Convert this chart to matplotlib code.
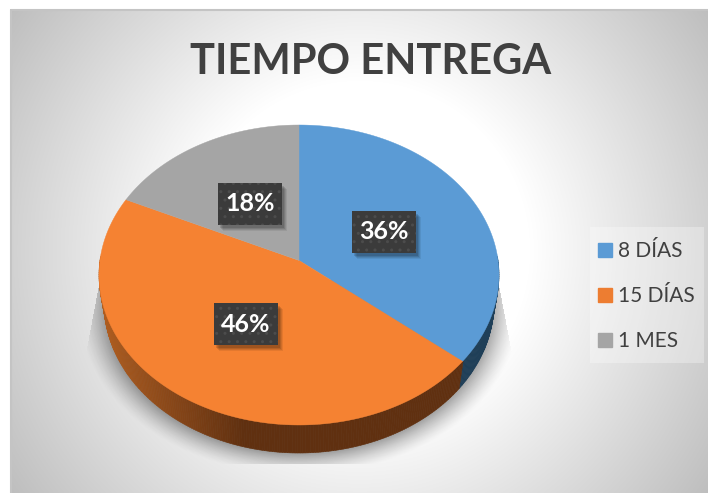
import numpy as np
import matplotlib
matplotlib.use('Agg')
import matplotlib.pyplot as plt
from matplotlib.patches import Patch, Rectangle

title = 'TIEMPO ENTREGA'
categories = ['8 DÍAS', '15 DÍAS', '1 MES']
values = [36, 46, 18]
colors = ['#5B9BD5', '#F58232', '#A5A5A5']
legend_colors = ['#5B9BD5', '#ED7D31', '#A5A5A5']

W, H = 708, 493
# pie ellipse in pixels
cx, cy, rx, ry = 299, 275, 200, 150
depth = 28
bottom_rx = 195
tilt = 0.097  # the centre of the pie sits higher than the centre of the ellipse


def project(x, y):
    # point on a round pie -> ellipse units with perspective
    den = 1 + tilt * y
    return x * np.sqrt(1 - tilt ** 2) / den, (y + tilt) / den


fig = plt.figure(figsize=(W / 100, H / 100), dpi=100)

# background with the radial gradient, pixel coordinates
bg = fig.add_axes([0, 0, 1, 1])
bg.set_xlim(0, W)
bg.set_ylim(H, 0)
bg.axis('off')
xx, yy = np.meshgrid(np.arange(W) + 0.5, np.arange(H) + 0.5)
r = np.hypot(xx - 360, yy - 251)
grey = np.clip(1 - (r - 170) / 240 * 0.24, 0, 1)
bg.imshow(np.dstack([grey, grey, grey]), extent=(0, W, H, 0), aspect='auto', zorder=0)
bg.add_patch(Rectangle((0, 0), W, 9, fc='white', ec='none', zorder=1))
bg.add_patch(Rectangle((0, 0), 10, H, fc='white', ec='none', zorder=1))
bg.plot([10.5, 10.5, W], [H, 9.5, 9.5], color='#C4C4C4', lw=1.5, zorder=2)

# soft shadow under the pie, cut off like in the original
dist = np.hypot((xx - cx) / (bottom_rx + 10), (yy - (cy + depth + 6)) / (ry + 4))
alpha = np.clip(1 - (dist - 0.92) / 0.16, 0, 1) ** 1.4 * 0.42
edge_l = 100 - (yy - 280) * 0.19
edge_r = 498 + (yy - 280) * 0.19
alpha[(xx < edge_l) | (xx > edge_r) | (yy > 464) | (yy < 280)] = 0
shadow = np.zeros((H, W, 4))
shadow[..., 3] = alpha
bg.imshow(shadow, extent=(0, W, H, 0), aspect='auto', zorder=3)

# pie axes: data units are the ellipse radii
ax = fig.add_axes([0, 0, 1, 1], facecolor='none')
ax.set_xlim(-cx / rx, (W - cx) / rx)
ax.set_ylim((cy - H) / ry, cy / ry)
ax.axis('off')

edges = np.cumsum([0] + values) / sum(values) * 2 * np.pi
apex = project(0, 0)

# side wall
bx = bottom_rx / rx
bdy = depth / ry
ex, ey = project(np.sin(edges[1]), np.cos(edges[1]))
split = np.arctan2(ex, ey)  # wall boundary between blue and orange
steps = np.linspace(np.pi * 0.46, np.pi * 1.54, 260)
side_dark = np.array([0x60, 0x30, 0x10]) / 255
side_light = np.array([0xAD, 0x5C, 0x20]) / 255
for t0, t1 in zip(steps[:-1], steps[1:]):
    xs = [np.sin(t0), np.sin(t1), bx * np.sin(t1), bx * np.sin(t0)]
    ys = [np.cos(t0), np.cos(t1), np.cos(t1) - bdy, np.cos(t0) - bdy]
    if (t0 + t1) / 2 < split:
        c = '#1F3F58'
    else:
        k = np.clip((-np.sin(t0) * rx - 55) / 140, 0, 1)
        c = side_dark + (side_light - side_dark) * k
    ax.fill(xs, ys, color=c, lw=0.4, zorder=2)

# top of the pie
for i in range(len(values)):
    t = np.linspace(edges[i], edges[i + 1], 200)
    px, py = project(np.sin(t), np.cos(t))
    ax.fill(np.r_[apex[0], px], np.r_[apex[1], py], color=colors[i], lw=0.3, zorder=3)

# overlay for texts, in pixels
top = fig.add_axes([0, 0, 1, 1], facecolor='none')
top.set_xlim(0, W)
top.set_ylim(H, 0)
top.axis('off')

top.text(371, 62, title, ha='center', va='center', fontsize=30, fontweight='bold',
         family='Lato', color='#404040')

# data labels, half way along each slice
for i in range(len(values)):
    mid = (edges[i] + edges[i + 1]) / 2
    lx, ly = project(0.48 * np.sin(mid), 0.48 * np.cos(mid))
    lx = cx + rx * lx
    ly = cy - ry * ly + 1
    for off, a in ((7, 0.07), (6, 0.09), (5, 0.11), (4, 0.13)):
        top.add_patch(Rectangle((lx - 32 + off - 2, ly - 21 + off - 1), 64, 42, fc='black',
                                ec='none', alpha=a, zorder=5))
    top.add_patch(Rectangle((lx - 32, ly - 21), 64, 42, fc='#3B3B3B', ec='none', zorder=6))
    top.add_patch(Rectangle((lx - 32, ly - 21), 64, 42, fc='none', ec='#4C4C4C', lw=0,
                            hatch='..', zorder=7))
    top.text(lx, ly, '%d%%' % values[i], ha='center', va='center', fontsize=18, fontweight='bold',
             family='Lato', color='white', zorder=8)

# legend
top.add_patch(Rectangle((590, 227), 114, 136, fc='white', ec='none', alpha=0.3, zorder=4))
handles = [Patch(color=c, label=n) for c, n in zip(legend_colors, categories)]
leg = top.legend(handles=handles, loc='center left', bbox_to_anchor=(594, 296),
                 bbox_transform=top.transData, frameon=False, prop={'family': 'Lato', 'size': 15},
                 labelcolor='#404040', handlelength=0.67, handleheight=0.67, handletextpad=0.29,
                 labelspacing=1.2, borderpad=0.2, borderaxespad=0)
leg.set_zorder(9)

fig.savefig('out.png', dpi=100)
